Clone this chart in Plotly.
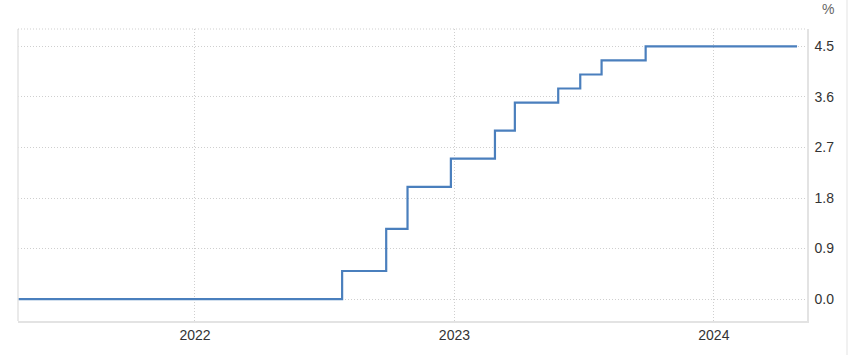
import plotly.graph_objects as go

# Data
dates = ["2021-04-27", "2022-07-27", "2022-09-27", "2022-10-27", "2022-12-27",
         "2023-02-27", "2023-03-27", "2023-05-27", "2023-06-27", "2023-07-27",
         "2023-09-27", "2024-04-27"]
rates = [0.0, 0.5, 1.25, 2.0, 2.5, 3.0, 3.5, 3.75, 4.0, 4.25, 4.5, 4.5]

y_ticks = [0.0, 0.9, 1.8, 2.7, 3.6, 4.5]
x_ticks = ["2022-01-01", "2023-01-01", "2024-01-01"]
x_tick_labels = ["2022", "2023", "2024"]
unit_label = "%"

FONT = "Liberation Sans, Arial, sans-serif"
GRID = "#cfcfcf"
AXIS = "#e3e3e3"
DOT = "1px,2px"

fig = go.Figure()
fig.add_trace(go.Scatter(
    x=dates, y=rates, mode="lines",
    line=dict(color="#4a7fbd", width=2.2, shape="hv"),
    hoverinfo="x+y", showlegend=False,
))

fig.update_layout(
    width=857, height=355,
    margin=dict(l=18, r=50, t=29, b=32),
    paper_bgcolor="white", plot_bgcolor="white",
    font=dict(family=FONT, size=14, color="#333333"),
    xaxis=dict(
        range=["2021-04-27", "2024-05-11"],
        tickvals=x_ticks, ticktext=x_tick_labels,
        showgrid=True, gridcolor=GRID, griddash=DOT, gridwidth=1,
        showline=True, linecolor=AXIS, linewidth=1.5,
        ticks="", zeroline=False,
        tickfont=dict(family=FONT, size=14, color="#333333"),
    ),
    yaxis=dict(
        side="right",
        range=[-0.39, 4.81],
        tickvals=y_ticks, tickformat=".1f",
        showgrid=True, gridcolor=GRID, griddash=DOT, gridwidth=1,
        showline=True, linecolor=AXIS, linewidth=1.5,
        ticks="outside", ticklen=3, tickcolor="rgba(0,0,0,0)",
        zeroline=False,
        tickfont=dict(family=FONT, size=14, color="#333333"),
    ),
    shapes=[
        # left border (solid)
        dict(type="line", xref="paper", yref="paper", x0=0, x1=0, y0=0, y1=1,
             line=dict(color=AXIS, width=1.5)),
        # top border (dotted)
        dict(type="line", xref="paper", yref="paper", x0=0, x1=1, y0=1, y1=1,
             line=dict(color=GRID, width=1, dash=DOT)),
        # far right separator line
        dict(type="line", xref="paper", yref="paper", x0=1.0507, x1=1.0507,
             y0=-0.2, y1=1.2, line=dict(color="#ececec", width=1.5)),
    ],
    annotations=[
        dict(text=unit_label, xref="paper", yref="paper", x=1.026, y=1.070,
             xanchor="center", yanchor="middle", showarrow=False,
             font=dict(family=FONT, size=14, color="#666666")),
    ],
)

fig.write_html("out.html")
